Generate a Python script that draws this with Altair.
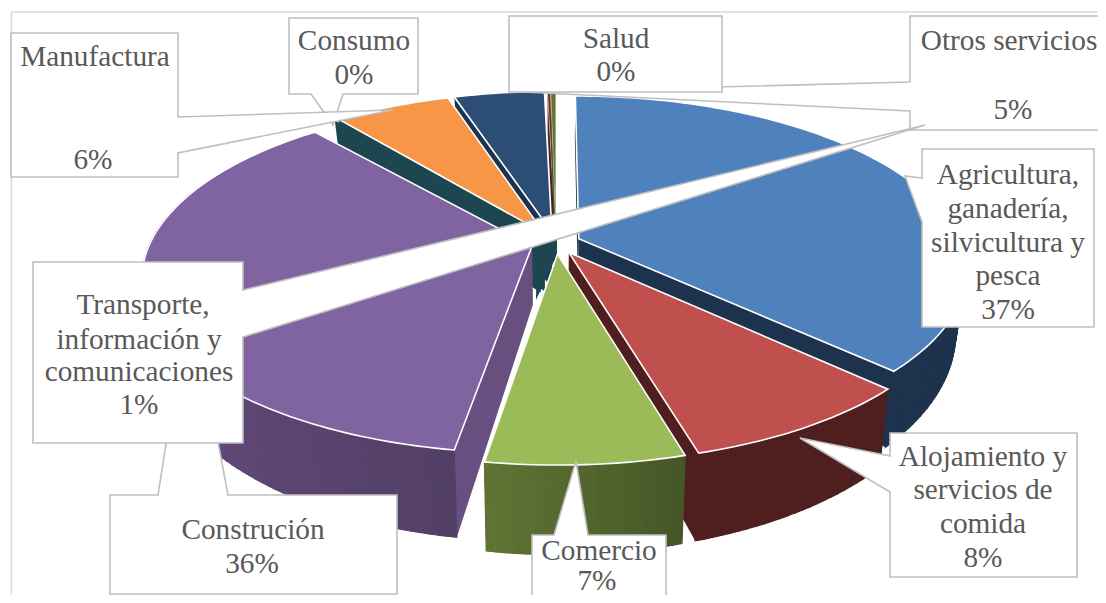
import math
import altair as alt

# ---- data ----
names = ["Agricultura", "Alojamiento", "Comercio", "Construcion", "Transporte", "Manufactura", "Otros", "Consumo", "Salud"]
values = [37.2, 8.4, 6.9, 36.2, 0.6, 5.8, 4.5, 0.15, 0.25]
top_colors = ["#4f81bd", "#c0504d", "#9bbb59", "#8064a2", "#1d4650", "#f79646", "#2c4d75", "#772c2a", "#5f7530"]
wall_left = ["#1d334d", "#4e1f1e", "#5f7434", "#64497c", "#1d4650", "#94562a", "#1d334d", "#4e1f1e", "#3f4e20"]
wall_right = ["#1d334d", "#4e1f1e", "#465727", "#523f66", "#1d4650", "#94562a", "#1d334d", "#4e1f1e", "#3f4e20"]
face_colors = ["#1d334d", "#4e1f1e", "#4e1f1e", "#67507f", "#1d4650", "#1d4650", "#1d334d", "#4e1f1e", "#3f4e20"]
draw_order = [6, 7, 8, 4, 5, 3, 0, 1, 2]

text_rows = [
    ("Manufactura", 95, 57), ("6%", 93, 160),
    ("Consumo", 354, 41), ("0%", 354, 75),
    ("Salud", 616, 39), ("0%", 616, 72),
    ("Otros servicios", 1009, 41), ("5%", 1013, 110),
    ("Agricultura,", 1008, 175), ("ganadería,", 1008, 209), ("silvicultura y", 1008, 243),
    ("pesca", 1008, 276), ("37%", 1008, 310),
    ("Transporte,", 143, 305), ("información y", 139, 340), ("comunicaciones", 139, 372), ("1%", 139, 405),
    ("Alojamiento y", 983, 457), ("servicios de", 983, 490), ("comida", 983, 524), ("8%", 983, 558),
    ("Construción", 253, 530), ("36%", 252, 564),
    ("Comercio", 599, 551), ("7%", 597, 581),
]

# ---- layout of the tilted disc ----
CX, CY, RX, A, U, EXPLODE, WALL = 556, 243, 382, 169.3, 0.1767, 0.065, 90


def project(dx, dy, z=0.0):
    w = 1 + U * dy
    x = CX + RX * dx / w * (1 - 0.025 * z)
    y = CY - A * dy / w + z * WALL * (0.81 / w) ** 2
    return [x, y]


def feature(points, fill, stroke="none", width=0.0):
    ring = [list(p) for p in points]
    ring.append(ring[0])
    return {"type": "Feature", "geometry": {"type": "Polygon", "coordinates": [ring]},
            "fill": fill, "stroke": stroke, "sw": width}


def mix(c1, c2, t):
    a = [int(c1[i:i + 2], 16) for i in (1, 3, 5)]
    b = [int(c2[i:i + 2], 16) for i in (1, 3, 5)]
    return "#" + "".join(f"{round(p + (q - p) * t):02x}" for p, q in zip(a, b))


shapes = []
total = sum(values)
starts = []
acc = 0.0
for v in values:
    starts.append(acc)
    acc += v

for i in draw_order:
    t0 = starts[i] / total * 2 * math.pi
    t1 = (starts[i] + values[i]) / total * 2 * math.pi
    mid = (t0 + t1) / 2
    ox, oy = EXPLODE * math.sin(mid), EXPLODE * math.cos(mid)
    n = max(2, int(values[i] * 3))
    ts = [t0 + (t1 - t0) * k / n for k in range(n + 1)]
    rim = [(ox + math.sin(t), oy + math.cos(t)) for t in ts]
    apex = (ox, oy)
    # radial faces, back one first
    if names[i] != "Transporte":
        shapes.append(feature([project(*apex), project(*rim[0]), project(*rim[0], 1), project(*apex, 1)], face_colors[i]))
    shapes.append(feature([project(*apex), project(*rim[-1]), project(*rim[-1], 1), project(*apex, 1)], face_colors[i]))
    # outer wall, cut in strips to shade it from one side to the other
    front = [k for k in range(n) if math.cos((ts[k] + ts[k + 1]) / 2) < 0.35]
    if front:
        xs = [project(*rim[k])[0] for k in front]
        lo, hi = min(xs), max(xs)
        for k in front:
            shade = mix(wall_left[i], wall_right[i], (project(*rim[k])[0] - lo) / max(1, hi - lo))
            shapes.append(feature([project(*rim[k]), project(*rim[k + 1]), project(*rim[k + 1], 1), project(*rim[k], 1)], shade, shade, 1.2))
    if names[i] == "Transporte":
        # only its dark sides show: the core shows at the centre
        shapes.append(feature([(537, 240), (557, 240), (557, 255), (536, 300)], face_colors[i]))
        continue
    shapes.append(feature([project(*apex)] + [project(*r) for r in rim], top_colors[i], "#ffffff", 1.6 if values[i] > 1 else 0.4))

# ---- callouts, in page pixels ----
callouts = [
    [(289, 18), (418, 18), (418, 94), (343, 94), (333, 125), (311, 94), (289, 94)],
    [(110, 495), (158, 495), (190, 293), (228, 495), (397, 495), (397, 594), (110, 594)],
    [(532, 535), (554, 535), (576, 461), (588, 535), (666, 535), (666, 625), (532, 625)],
    [(890, 433), (1077, 433), (1077, 577), (890, 577), (890, 492), (800, 438), (890, 456)],
    [(922, 149), (1094, 149), (1094, 327), (922, 327), (922, 222), (905, 176), (922, 178)],
    [(910, 16), (1120, 16), (1120, 130), (910, 130), (910, 111), (524, 92), (910, 82)],
    [(509, 16), (722, 16), (722, 92), (509, 92)],
    [(11, 33), (178, 33), (178, 117), (393, 110), (178, 153), (178, 177), (11, 177)],
    [(33, 262), (243, 262), (243, 290), (925, 125), (243, 337), (243, 443), (33, 443)],
]
for c in callouts:
    shapes.append(feature(c, "#ffffff", "#bfbfbf", 1.6))

frame_rows = [{"x": 11.5, "y": 12.0, "x2": 1106.0, "y2": 12.0}, {"x": 11.5, "y": 12.0, "x2": 11.5, "y2": 603.0}]
texts = [{"t": t, "x": x - 8, "y": y - 8} for t, x, y in text_rows]

polys = alt.Chart(alt.Data(values=shapes)).mark_geoshape(strokeJoin="miter").encode(
    fill=alt.Fill("fill:N", scale=None),
    stroke=alt.Stroke("stroke:N", scale=None),
    strokeWidth=alt.StrokeWidth("sw:Q", scale=None),
).project(type="identity", scale=1, translate=[-8, -8])

frame = alt.Chart(alt.Data(values=[{"x": r["x"] - 8, "y": r["y"] - 8, "x2": r["x2"] - 8, "y2": r["y2"] - 8} for r in frame_rows])).mark_rule(
    color="#d9d9d9", strokeWidth=1.4
).encode(
    x=alt.X("x:Q", scale=None), y=alt.Y("y:Q", scale=None),
    x2="x2:Q", y2="y2:Q",
)

labels = alt.Chart(alt.Data(values=texts)).mark_text(
    font="Liberation Serif", fontSize=29.3, color="#595959", align="center", baseline="middle"
).encode(
    x=alt.X("x:Q", scale=None), y=alt.Y("y:Q", scale=None), text="t:N",
)

chart = alt.layer(frame, polys, labels).properties(
    width=1090, height=587, padding=0, background="#ffffff",
    autosize=alt.AutoSizeParams(type="none"),
).configure_view(stroke=None)

chart.save("out.html", embed_options={"renderer": "svg", "actions": False})
